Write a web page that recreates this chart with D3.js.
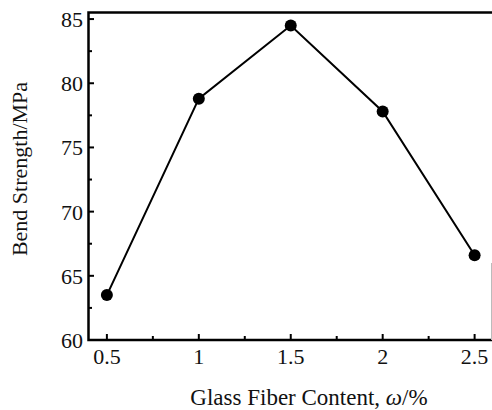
<!DOCTYPE html>
<meta charset="UTF-8">
<style>
body { margin: 0; background: #fff; }
</style>
<body>
<script src="https://d3js.org/d3.v7.min.js"></script>
<script>

// glass fiber content (%) and bend strength (MPa)
var content = [0.5, 1, 1.5, 2, 2.5];
var strength = [63.5, 78.8, 84.5, 77.8, 66.6];
var xTicks = [0.5, 1, 1.5, 2, 2.5];
var xMinor = [0.75, 1.25, 1.75, 2.25];
var yTicks = [60, 65, 70, 75, 80, 85];
var yMinor = [62.5, 67.5, 72.5, 77.5, 82.5];

var W = 492, H = 410;
var serif = "'Liberation Serif', 'Times New Roman', Times, serif";

var svg = d3.select("body").append("svg")
    .attr("width", W)
    .attr("height", H);

var x = d3.scaleLinear().domain([0.4, 2.6]).range([88.5, 493]);
var y = d3.scaleLinear().domain([60, 85.55]).range([340, 12]);

// inward ticks
svg.selectAll(".xmaj").data(xTicks).enter().append("line")
    .attr("x1", d => x(d)).attr("x2", d => x(d))
    .attr("y1", 340).attr("y2", 334)
    .attr("stroke", "#000").attr("stroke-width", 2);
svg.selectAll(".xmin").data(xMinor).enter().append("line")
    .attr("x1", d => x(d)).attr("x2", d => x(d))
    .attr("y1", 340).attr("y2", 336)
    .attr("stroke", "#000").attr("stroke-width", 2);
svg.selectAll(".ymaj").data(yTicks).enter().append("line")
    .attr("x1", 88).attr("x2", 94)
    .attr("y1", d => y(d)).attr("y2", d => y(d))
    .attr("stroke", "#000").attr("stroke-width", 2);
svg.selectAll(".ymin").data(yMinor).enter().append("line")
    .attr("x1", 88).attr("x2", 92)
    .attr("y1", d => y(d)).attr("y2", d => y(d))
    .attr("stroke", "#000").attr("stroke-width", 2);

// frame: left, bottom, top (right edge only faint)
svg.append("path")
    .attr("d", "M493,12.5 H88.5 V340 H493")
    .attr("fill", "none").attr("stroke", "#000").attr("stroke-width", 2.5);
svg.append("line")
    .attr("x1", 491.5).attr("x2", 491.5).attr("y1", 263).attr("y2", 340)
    .attr("stroke", "#bbb").attr("stroke-width", 1);

// tick labels
svg.selectAll(".xl").data(xTicks).enter().append("text")
    .attr("x", d => x(d)).attr("y", 364)
    .attr("text-anchor", "middle")
    .attr("font-family", serif).attr("font-size", 22).attr("fill", "#111")
    .text(d => d);
svg.selectAll(".yl").data(yTicks).enter().append("text")
    .attr("x", 83).attr("y", d => y(d) + 8)
    .attr("text-anchor", "end")
    .attr("font-family", serif).attr("font-size", 22).attr("fill", "#111")
    .text(d => d);

// series
var line = d3.line().x(d => x(d[0])).y(d => y(d[1]));
var pts = content.map((c, i) => [c, strength[i]]);
svg.append("path")
    .attr("d", line(pts))
    .attr("fill", "none").attr("stroke", "#000").attr("stroke-width", 2);
svg.selectAll(".dot").data(pts).enter().append("circle")
    .attr("cx", d => x(d[0])).attr("cy", d => y(d[1]))
    .attr("r", 6).attr("fill", "#000");

// axis titles
svg.append("text")
    .attr("transform", "translate(27,169) rotate(-90)")
    .attr("text-anchor", "middle")
    .attr("font-family", serif).attr("font-size", 22).attr("fill", "#111")
    .text("Bend Strength/MPa");

var xt = svg.append("text")
    .attr("x", 309).attr("y", 405)
    .attr("text-anchor", "middle")
    .attr("font-family", serif).attr("font-size", 23).attr("fill", "#111");
xt.append("tspan").text("Glass Fiber Content, ");
xt.append("tspan").attr("font-style", "italic").text("ω");
xt.append("tspan").text("/%");

</script>
</body>
